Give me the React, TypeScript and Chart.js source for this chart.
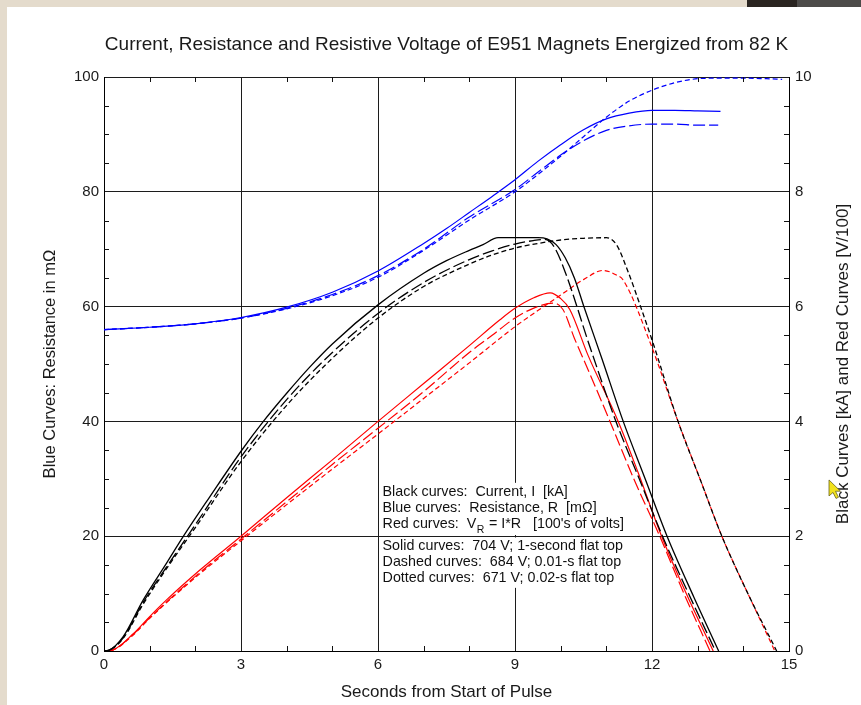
import React, { useEffect, useRef } from "react";
import { Chart, registerables } from "chart.js";

Chart.register(...registerables);

// ---------- data (time in s) ----------
// Blue: resistance [mΩ] (left axis)
const blueSolidT = [0, 1, 2, 3, 4, 5, 6, 7, 7.5, 8, 8.5, 9, 9.5, 10, 10.5, 11, 11.5, 12, 12.5, 13, 13.5];
const blueSolidR = [56, 56.4, 57, 58.1, 59.9, 62.5, 66.2, 71, 73.6, 76.4, 79.2, 82.1, 85.3, 88.2, 90.8, 92.7, 93.7, 94.2, 94.2, 94.1, 94.0];
const blueDashT = [0, 1, 2, 3, 4, 5, 6, 7, 8, 9, 9.5, 10, 10.5, 11, 11.5, 12, 12.5, 13, 13.45];
const blueDashR = [56, 56.4, 57, 58, 59.7, 62.1, 65.4, 70, 75.6, 80.4, 83.4, 86.4, 88.9, 90.7, 91.5, 91.8, 91.8, 91.6, 91.6];
const blueDotT = [0, 1, 2, 3, 4, 5, 6, 7, 8, 9, 9.5, 10, 10.5, 11, 11.5, 12, 12.5, 13, 13.5, 14, 14.5, 14.85];
const blueDotR = [56, 56.4, 57, 58, 59.6, 61.9, 65.1, 69.8, 75.1, 80, 83, 86.2, 89.6, 93, 95.8, 97.7, 99, 99.7, 99.8, 99.8, 99.7, 99.6];

// Black: current [kA] (right axis)
const blackSolidT = [0, 0.1, 0.42, 0.86, 1.37, 1.74, 2.32, 3, 3.49, 4, 4.51, 5, 6, 7, 7.5, 8, 8.3, 8.63, 9, 9.5, 9.7, 9.9, 10.1, 10.3, 10.5, 10.9, 11.37, 11.86, 12.33, 12.91, 13.46];
const blackSolidI = [0, 0.01, 0.25, 0.89, 1.53, 2.0, 2.69, 3.48, 4.0, 4.49, 4.95, 5.35, 6.03, 6.58, 6.8, 6.98, 7.08, 7.2, 7.2, 7.2, 7.18, 7.08, 6.85, 6.5, 6.02, 5.1, 4.0, 2.98, 2.0, 0.95, 0];
const blackDashT = [0, 0.1, 0.42, 0.86, 1.4, 2, 3, 4, 5, 6, 7, 8, 8.5, 9, 9.4, 9.65, 9.85, 10.1, 10.64, 11.21, 11.72, 12.23, 12.8, 13.39];
const blackDashI = [0, 0.01, 0.23, 0.85, 1.5, 2.2, 3.38, 4.38, 5.2, 5.88, 6.42, 6.82, 6.97, 7.09, 7.15, 7.17, 7.05, 6.6, 5.3, 4.0, 3.0, 2.0, 1.0, 0];
const blackDotT = [0, 0.1, 0.42, 0.86, 1.4, 2, 3, 4, 5, 6, 7, 8, 8.5, 9, 9.5, 10, 10.5, 11, 11.22, 11.48, 11.75, 12.05, 12.57, 13.05, 13.53, 14.1, 14.73];
const blackDotI = [0, 0.01, 0.22, 0.82, 1.47, 2.15, 3.3, 4.28, 5.1, 5.8, 6.35, 6.74, 6.9, 7.02, 7.1, 7.16, 7.19, 7.2, 7.08, 6.6, 6.0, 5.3, 4.0, 3.0, 2.0, 1.0, 0];

// Red: resistive voltage [V/100] (right axis)
const redSolidT = [0, 0.2, 0.64, 1, 1.37, 2.1, 3, 4, 5, 6, 7, 8, 8.67, 9, 9.4, 9.77, 10, 10.2, 10.6, 11.26, 11.7, 12.21, 12.75, 13.34];
const redSolidV = [0, 0.02, 0.3, 0.6, 0.89, 1.41, 2.0, 2.67, 3.33, 4.0, 4.66, 5.32, 5.77, 5.97, 6.15, 6.24, 6.14, 5.95, 5.15, 4.0, 3.1, 2.0, 1.0, 0];
const redDashT = [0, 0.2, 0.64, 1, 2, 3, 4, 5, 6, 7, 8, 8.5, 9, 9.4, 9.84, 10.05, 10.3, 10.6, 11.08, 11.6, 12.17, 12.7, 13.27];
const redDashV = [0, 0.02, 0.29, 0.58, 1.3, 1.95, 2.6, 3.25, 3.88, 4.52, 5.2, 5.5, 5.8, 5.97, 6.06, 5.95, 5.45, 4.9, 4.0, 3.0, 2.0, 1.0, 0];
const redDotT = [0, 0.2, 0.64, 1, 2, 3, 4, 5, 6, 7, 8, 9, 9.5, 10, 10.5, 10.93, 11.22, 11.37, 11.98, 12.57, 13.05, 13.53, 14.1, 14.69];
const redDotV = [0, 0.02, 0.28, 0.57, 1.28, 1.92, 2.55, 3.17, 3.78, 4.4, 5.02, 5.65, 5.93, 6.2, 6.47, 6.63, 6.55, 6.46, 5.33, 4.0, 3.0, 2.0, 1.0, 0];

// ---------- text ----------
const TITLE = "Current, Resistance and Resistive Voltage of E951 Magnets Energized from 82 K";
const X_TITLE = "Seconds from Start of Pulse";
const YL_TITLE = "Blue Curves: Resistance in m\u03A9";
const YR_TITLE = "Black Curves [kA] and Red Curves [V/100]";
const NOTE_LINES = [
  "Black curves:  Current, I  [kA]",
  "Blue curves:  Resistance, R  [m\u03A9]",
  "RED",
  "Solid curves:  704 V; 1-second flat top",
  "Dashed curves:  684 V; 0.01-s flat top",
  "Dotted curves:  671 V; 0.02-s flat top",
];

const FONT = "'Liberation Sans', Arial, Helvetica, sans-serif";
const LONG_DASH = [12, 4];
const SHORT_DASH = [5, 3];

function makeSet(t: number[], v: number[], color: string, dash: number[], axis: string, width = 1.2) {
  return {
    data: t.map((x, i) => ({ x, y: v[i] })),
    borderColor: color,
    borderWidth: width,
    borderDash: dash,
    pointRadius: 0,
    fill: false,
    cubicInterpolationMode: "monotone" as const,
    yAxisID: axis,
  };
}

const decorPlugin = {
  id: "decor",
  beforeDatasetsDraw(chart: any) {
    const { ctx, scales } = chart;
    const x = scales.x;
    const yL = scales.yL;
    // white box behind the note text (hides the 9-s gridline there)
    const x0 = x.getPixelForValue(6.05);
    const x1 = x.getPixelForValue(11.4);
    const top = yL.getPixelForValue(29.3);
    const bot = yL.getPixelForValue(11.0);
    const g = Math.round(yL.getPixelForValue(20));
    ctx.save();
    ctx.fillStyle = "#ffffff";
    ctx.fillRect(x0, top, x1 - x0, g - 1 - top);
    ctx.fillRect(x0, g + 1.5, x1 - x0, bot - g - 1.5);
    ctx.restore();
  },
  afterDatasetsDraw(chart: any) {
    const { ctx, chartArea: a, scales } = chart;
    const x = scales.x;
    const yL = scales.yL;
    const yR = scales.yR;
    ctx.save();
    ctx.strokeStyle = "#111";
    ctx.lineWidth = 1;
    ctx.beginPath();
    for (let v = 1; v < 15; v++) {
      if (v % 3 === 0) continue;
      const px = Math.round(x.getPixelForValue(v)) + 0.5;
      ctx.moveTo(px, a.bottom);
      ctx.lineTo(px, a.bottom - 5);
      ctx.moveTo(px, a.top);
      ctx.lineTo(px, a.top + 5);
    }
    for (let v = 5; v < 100; v += 5) {
      if (v % 20 === 0) continue;
      const py = Math.round(yL.getPixelForValue(v)) + 0.5;
      ctx.moveTo(a.left, py);
      ctx.lineTo(a.left + 5, py);
    }
    for (let v = 0.5; v < 10; v += 0.5) {
      if (Math.abs(v % 2) < 1e-6) continue;
      const py = Math.round(yR.getPixelForValue(v)) + 0.5;
      ctx.moveTo(a.right, py);
      ctx.lineTo(a.right - 5, py);
    }
    ctx.stroke();

    // note text
    const tx = x.getPixelForValue(6.1);
    const ty = yL.getPixelForValue(27.75);
    const offs = [0, 16.3, 32.3, 54.3, 70.8, 86];
    ctx.fillStyle = "#111";
    ctx.textBaseline = "middle";
    ctx.textAlign = "left";
    const f = `14.3px ${FONT}`;
    ctx.font = f;
    NOTE_LINES.forEach((line, i) => {
      const yy = ty + offs[i];
      if (line === "RED") {
        const s1 = "Red curves:  V";
        ctx.font = f;
        ctx.fillText(s1, tx, yy);
        const w1 = ctx.measureText(s1).width;
        ctx.font = `10.5px ${FONT}`;
        ctx.fillText("R", tx + w1 + 0.5, yy + 6.5);
        const wR = ctx.measureText("R").width;
        ctx.font = f;
        ctx.fillText(" = I*R   [100's of volts]", tx + w1 + wR + 1, yy);
      } else {
        ctx.fillText(line, tx, yy);
      }
    });
    ctx.restore();
  },
  afterDraw(chart: any) {
    const { ctx, chartArea: a, scales } = chart;
    ctx.save();
    ctx.fillStyle = "#1a1a1a";
    ctx.font = `17px ${FONT}`;
    ctx.textAlign = "center";
    ctx.textBaseline = "middle";
    ctx.translate(a.right + 54, (a.top + a.bottom) / 2);
    ctx.rotate(-Math.PI / 2);
    ctx.fillText(YR_TITLE, 0, 0);
    ctx.restore();

    // mouse cursor seen in the screenshot
    const cx = a.right + 40;
    const cy = scales.yR.getPixelForValue(2.98);
    ctx.save();
    ctx.translate(cx, cy);
    ctx.beginPath();
    ctx.moveTo(0, 0);
    ctx.lineTo(0, 16);
    ctx.lineTo(4, 12.5);
    ctx.lineTo(7, 18.5);
    ctx.lineTo(9.5, 17.3);
    ctx.lineTo(6.5, 11.3);
    ctx.lineTo(11.5, 11.3);
    ctx.closePath();
    ctx.fillStyle = "#f2e21c";
    ctx.fill();
    ctx.strokeStyle = "#6b6420";
    ctx.lineWidth = 0.8;
    ctx.stroke();
    ctx.restore();
  },
};

export default function App() {
  const ref = useRef<HTMLCanvasElement | null>(null);

  useEffect(() => {
    if (!ref.current) return;
    const gridColor = "#1c1c1c";
    const tickFont = { family: FONT, size: 15 };
    const chart = new Chart(ref.current, {
      type: "line",
      data: {
        datasets: [
          makeSet(blueSolidT, blueSolidR, "#0000ff", [], "yL"),
          makeSet(blueDashT, blueDashR, "#0000ff", LONG_DASH, "yL"),
          makeSet(blueDotT, blueDotR, "#0000ff", SHORT_DASH, "yL"),
          makeSet(blackSolidT, blackSolidI, "#000000", [], "yR", 1.3),
          makeSet(blackDashT, blackDashI, "#000000", LONG_DASH, "yR", 1.3),
          makeSet(blackDotT, blackDotI, "#000000", SHORT_DASH, "yR", 1.3),
          makeSet(redSolidT, redSolidV, "#ff0000", [], "yR"),
          makeSet(redDashT, redDashV, "#ff0000", LONG_DASH, "yR"),
          makeSet(redDotT, redDotV, "#ff0000", SHORT_DASH, "yR"),
        ] as any,
      },
      options: {
        animation: false,
        responsive: false,
        events: [],
        layout: { padding: { left: 36, right: 4, top: 0, bottom: 0 } },
        plugins: {
          legend: { display: false },
          tooltip: { enabled: false },
          title: {
            display: true,
            text: TITLE,
            color: "#1a1a1a",
            font: { family: FONT, size: 19, weight: "normal" as any },
            padding: { top: 33.6, bottom: 20.6 },
          },
        },
        scales: {
          x: {
            type: "linear",
            min: 0,
            max: 15,
            ticks: { stepSize: 3, font: tickFont, color: "#1a1a1a", padding: 5, maxRotation: 0 },
            grid: { color: gridColor, lineWidth: 1, drawTicks: false },
            border: { color: "#000", width: 1 },
            title: {
              display: true,
              text: X_TITLE,
              color: "#1a1a1a",
              font: { family: FONT, size: 17 },
              padding: { top: 0, bottom: 2.8 },
            },
            afterFit(s: any) {
              s.height = 54;
            },
          },
          yL: {
            type: "linear",
            position: "left",
            min: 0,
            max: 100,
            ticks: { stepSize: 20, font: tickFont, color: "#1a1a1a", padding: 5 },
            grid: { color: gridColor, lineWidth: 1, drawTicks: false },
            border: { color: "#000", width: 1 },
            title: {
              display: true,
              text: YL_TITLE,
              color: "#1a1a1a",
              font: { family: FONT, size: 16.5 },
              padding: { top: 4.1, bottom: 0 },
            },
            afterFit(s: any) {
              s.width = 68;
            },
          },
          yR: {
            type: "linear",
            position: "right",
            min: 0,
            max: 10,
            ticks: { stepSize: 2, font: tickFont, color: "#1a1a1a", padding: 6 },
            grid: { drawOnChartArea: false, drawTicks: false },
            border: { color: "#000", width: 1 },
            afterFit(s: any) {
              s.width = 68;
            },
          },
        },
      } as any,
      plugins: [decorPlugin],
    });
    return () => chart.destroy();
  }, []);

  return (
    <div style={{ position: "fixed", left: 0, top: 0, width: 861, height: 705, background: "#e4dbcc", overflow: "hidden" }}>
      <div style={{ position: "absolute", left: 7, top: 7, right: 0, bottom: 0, background: "#ffffff" }} />
      <div style={{ position: "absolute", left: 747, top: 0, width: 50, height: 7, background: "#2a2521" }} />
      <div style={{ position: "absolute", left: 797, top: 0, width: 64, height: 7, background: "#4d4b49" }} />
      <canvas ref={ref} width={861} height={705} style={{ position: "absolute", left: 0, top: 0 }} />
    </div>
  );
}
